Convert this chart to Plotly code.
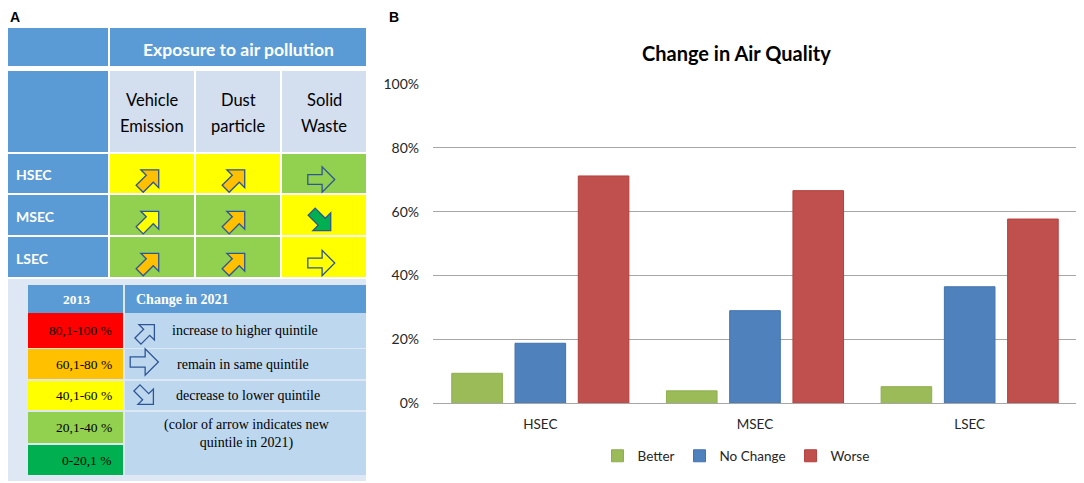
import numpy as np
import plotly.graph_objects as go

# ======================================
# DATA
# ======================================

groups = ["HSEC", "MSEC", "LSEC"]
better = [0.094, 0.039, 0.052]
no_change = [0.188, 0.290, 0.365]
worse = [0.712, 0.666, 0.577]

y_ticks = [0, 0.2, 0.4, 0.6, 0.8, 1.0]

pollutants = [["Vehicle", "Emission"], ["Dust", "particle"], ["Solid", "Waste"]]
cell_colors = [
    ["#ffff00", "#ffff00", "#92d050"],
    ["#92d050", "#92d050", "#ffff00"],
    ["#92d050", "#92d050", "#ffff00"],
]
arrow_dir = [
    ["up", "up", "same"],
    ["up", "up", "down"],
    ["up", "up", "same"],
]
arrow_fill = [
    ["#ffc000", "#ffc000", "#92d050"],
    ["#ffff00", "#ffc000", "#00b050"],
    ["#ffc000", "#ffc000", "#ffff00"],
]

quintile_labels = ["80,1-100 %", "60,1-80 %", "40,1-60 %", "20,1-40 %", "0-20,1 %"]
quintile_colors = ["#ff0000", "#ffc000", "#ffff00", "#92d050", "#00b050"]
change_labels = ["increase to higher quintile", "remain in same quintile",
                 "decrease to lower quintile"]
change_dirs = ["up", "same", "down"]
note_text = "(color of arrow indicates new<br>quintile in 2021)"

# ======================================
# HELPERS (page pixel -> paper)
# ======================================

W, H = 1084, 483
OFF = 8  # page body margin in front of the figure div
SANS = "Lato"
SERIF = "Liberation Serif"
HEAD_BLUE = "#5b9bd5"
OUTLINE = "#2f5597"


def px(x):
    return (x - OFF) / W


def py(y):
    return 1 - (y - OFF) / H


shapes = []
annotations = []


def rect(x0, y0, x1, y1, color):
    shapes.append(dict(type="rect", xref="paper", yref="paper",
                       x0=px(x0), x1=px(x1), y0=py(y1), y1=py(y0),
                       fillcolor=color, line_width=0))


def text(x, y, s, size, color="black", bold=False, family=SANS,
         xanchor="center", yanchor="middle"):
    if bold:
        s = "<b>" + s + "</b>"
    annotations.append(dict(x=px(x), y=py(y), xref="paper", yref="paper",
                            text=s, showarrow=False, xanchor=xanchor,
                            yanchor=yanchor, borderpad=0,
                            font=dict(size=size, color=color, family=family)))


def arrow(cx, cy, direction, fill, scale=1.0):
    pts = np.array([(-12, -4.5), (1, -4.5), (1, -11.5), (12.5, 0),
                    (1, 11.5), (1, 4.5), (-12, 4.5)]) * scale
    ang = {"up": -45, "same": 0, "down": 45}[direction]
    t = np.radians(ang)
    rot = np.array([[np.cos(t), -np.sin(t)], [np.sin(t), np.cos(t)]])
    pts = pts @ rot.T
    path = "M " + " L ".join(
        f"{px(cx + a):.5f},{py(cy + b):.5f}" for a, b in pts) + " Z"
    shapes.append(dict(type="path", xref="paper", yref="paper", path=path,
                       fillcolor=fill, line=dict(color=OUTLINE, width=1.3)))


# ======================================
# PANEL A - TABLE
# ======================================

col_x = [(110, 194), (196, 280), (282, 366)]
row_y = [(154, 193), (195, 235), (237, 277)]

rect(8, 28, 108, 66, HEAD_BLUE)
rect(110, 28, 366, 66, HEAD_BLUE)
text(238, 49, "Exposure to air pollution", 17.5, "white", bold=True)

rect(8, 71, 108, 152, HEAD_BLUE)
for (x0, x1), (l1, l2) in zip(col_x, pollutants):
    rect(x0, 71, x1, 152, "#d3deef")
    text((x0 + x1) / 2, 100, l1, 16.5)
    text((x0 + x1) / 2, 126, l2, 16.5)

for i, (y0, y1) in enumerate(row_y):
    rect(8, y0, 108, y1, HEAD_BLUE)
    text(15, (y0 + y1) / 2 + 1, groups[i], 14, "white", bold=True, xanchor="left")
    for j, (x0, x1) in enumerate(col_x):
        rect(x0, y0, x1, y1, cell_colors[i][j])
        cx = (x0 + x1) / 2 - 3
        cy = (y0 + y1) / 2 + 6
        arrow(cx, cy, arrow_dir[i][j], arrow_fill[i][j], 1.1)

# legend box
rect(8, 279, 366, 481, "#dde8f4")
rect(28, 285, 123, 313, HEAD_BLUE)
rect(125, 285, 366, 313, HEAD_BLUE)
text(76, 299, "2013", 13.5, "white", bold=True, family=SERIF)
text(135, 299, "Change in 2021", 14, "white", bold=True, family=SERIF, xanchor="left")

q_rows = [(313, 348), (349, 379), (381, 410), (412, 443), (445, 475)]
for (y0, y1), lab, col in zip(q_rows, quintile_labels, quintile_colors):
    rect(28, y0, 123, y1, col)
    text(113, (y0 + y1) / 2, lab, 13.5, family=SERIF, xanchor="right")

c_rows = [(313, 348), (349, 379), (381, 410)]
c_text_x = [245, 243, 248]
c_arrow = [(146, 333, 0.95), (144, 362, 1.15), (145, 396, 0.95)]
for (y0, y1), lab, d, tx, (ax, ay, sc) in zip(c_rows, change_labels, change_dirs,
                                               c_text_x, c_arrow):
    rect(125, y0, 366, y1, "#bdd7ee")
    text(tx, (y0 + y1) / 2, lab, 14, family=SERIF)
    arrow(ax, ay, d, "#bdd7ee", sc)
rect(125, 412, 366, 475, "#bdd7ee")
text(247, 434, note_text, 14, family=SERIF)

# panel labels (kept inside the figure's top edge)
text(9, 8, "A", 14, bold=True, family="Liberation Sans",
     xanchor="left", yanchor="top")
text(388, 8, "B", 14, bold=True, family="Liberation Sans",
     xanchor="left", yanchor="top")

# ======================================
# PANEL B - BAR CHART
# ======================================

fig = go.Figure()

fig.add_trace(go.Bar(x=groups, y=better, name="Better",
                     marker=dict(color="#9bbb59", line=dict(color="#8fae4f", width=1))))
fig.add_trace(go.Bar(x=groups, y=no_change, name="No Change",
                     marker=dict(color="#4f81bd", line=dict(color="#4373ad", width=1))))
fig.add_trace(go.Bar(x=groups, y=worse, name="Worse",
                     marker=dict(color="#c0504d", line=dict(color="#b3403d", width=1))))

text(736, 53, "Change in Air Quality", 20, bold=True)

fig.update_layout(
    width=W,
    height=H,
    autosize=False,
    margin=dict(l=0, r=0, t=0, b=0, pad=0, autoexpand=False),
    paper_bgcolor="white",
    plot_bgcolor="white",
    barmode="group",
    bargap=0.116,
    bargroupgap=0.2,
    shapes=shapes,
    annotations=annotations,
    font=dict(family=SANS, size=13, color="#404040"),
    xaxis=dict(
        domain=[px(433), px(1077)],
        automargin=False,
        showgrid=False,
        showline=True,
        linecolor="#a6a6a6",
        ticks="",
        ticklabelstandoff=8,
        tickfont=dict(size=13.5, color="#262626"),
    ),
    yaxis=dict(
        domain=[py(403.3), py(84)],
        automargin=False,
        range=[0, 1],
        tickvals=y_ticks,
        tickformat=".0%",
        gridcolor="#a6a6a6",
        zeroline=False,
        showline=False,
        ticklabelstandoff=13,
        tickfont=dict(size=14, color="#262626"),
    ),
    legend=dict(
        orientation="h",
        x=px(736),
        xanchor="center",
        y=py(456),
        yanchor="middle",
        font=dict(size=13.5, color="#262626"),
        itemwidth=30,
    ),
)

fig.write_html("out.html")
